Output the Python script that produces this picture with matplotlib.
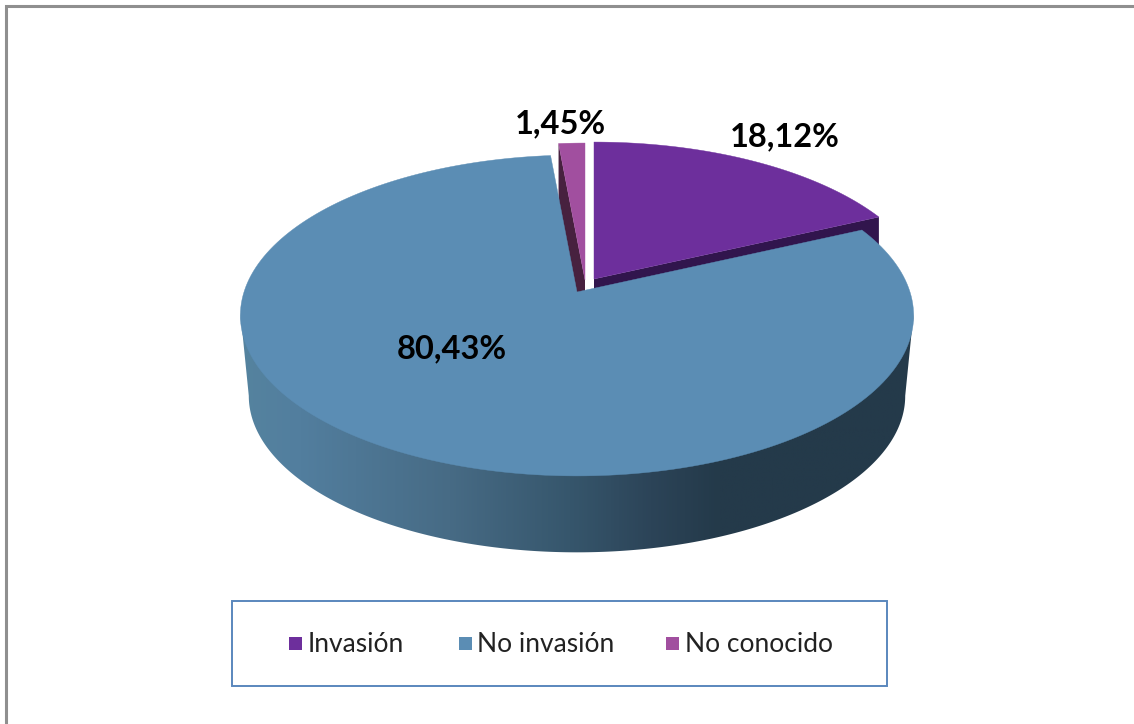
import numpy as np
import matplotlib
matplotlib.use('Agg')
import matplotlib.pyplot as plt
from matplotlib.patches import Polygon, Rectangle
from matplotlib.colors import LinearSegmentedColormap

# chart data
categories = ['Invasión', 'No invasión', 'No conocido']
values = [18.12, 80.43, 1.45]
value_labels = ['18,12%', '80,43%', '1,45%']

colors = ['#6d2f9c', '#5b8db4', '#a14f9f']
wall_colors = ['#31154d', '#2a4458', '#47213f']

# pixel position of each slice tip on the top face (slices are pulled apart)
tips = [(594, 279), (577, 292), (585, 280)]
label_pos = [(785, 137), (452, 349), (560, 124)]
legend_marker_x = [289, 459, 666]
legend_text_x = [308, 477, 685]

# perspective of the disc
PERSP = 0.1464
RX = 333.0
RY = 157.0
DEPTH = 81.0
BOTTOM_SCALE = 0.975


def project(theta, tip, scale=1.0, drop=0.0):
    # theta runs clockwise from the top of the disc, radians
    x = np.sin(theta)
    y = np.cos(theta)
    w = 1 + PERSP * y
    return np.column_stack([tip[0] + scale * RX * x / w,
                            tip[1] + drop - scale * RY * y / w])


def wedge(start, stop, tip):
    th = np.linspace(start, stop, 200)
    return np.vstack([[tip], project(th, tip)])


fig = plt.figure(figsize=(11.34, 7.24), dpi=100)
ax = fig.add_axes([0, 0, 1, 1])
ax.set_xlim(0, 1134)
ax.set_ylim(724, 0)
ax.axis('off')

# outer frame, only the top and left edges fall inside the image
ax.plot([5.5, 5.5, 1134], [724, 6, 6], color='#8f8f8f', lw=2.2, solid_joinstyle='miter')

fractions = np.array(values) / sum(values)
edges = np.concatenate([[0], np.cumsum(fractions)]) * 2 * np.pi

# side of the big slice, shaded left to right
blue_tip = tips[1]
th_all = np.linspace(0, 2 * np.pi, 1000)
top_ring = project(th_all, blue_tip)
bot_ring = project(th_all, blue_tip, BOTTOM_SCALE, DEPTH)
top_arc = top_ring[np.argmax(top_ring[:, 0]):np.argmin(top_ring[:, 0]) + 1]
bot_arc = bot_ring[np.argmax(bot_ring[:, 0]):np.argmin(bot_ring[:, 0]) + 1]
# pushed up a little so it runs under the top face
side = Polygon(np.vstack([top_arc - [0, 3], bot_arc[::-1]]), closed=True, fc='none', ec='none')
ax.add_patch(side)
shade = LinearSegmentedColormap.from_list('side', [
    (0.0, '#55839f'), (0.09, '#527e9e'), (0.31, '#476b85'), (0.49, '#36566c'),
    (0.61, '#2c4458'), (0.71, '#243a4a'), (1.0, '#243a4a')])
img = ax.imshow(np.linspace(0, 1, 512).reshape(1, -1), cmap=shade, aspect='auto',
                extent=[240, 914, 560, 300], zorder=1)
img.set_clip_path(side)
ax.set_xlim(0, 1134)
ax.set_ylim(724, 0)

# cut faces of the two small slices, seen through the gap
purple_end = project(np.array([edges[1]]), tips[0])[0]
face = [tips[0], purple_end, purple_end + [0, 60], np.array(tips[0]) + [0, 60]]
ax.add_patch(Polygon(face, closed=True, fc=wall_colors[0], ec='none', zorder=2))
magenta_start = project(np.array([edges[2]]), tips[2])[0]
face = [tips[2], magenta_start, magenta_start + [0, 60], np.array(tips[2]) + [0, 60]]
ax.add_patch(Polygon(face, closed=True, fc=wall_colors[2], ec='none', zorder=2))

# top faces
for i in [0, 2, 1]:
    pts = wedge(edges[i], edges[i + 1], tips[i])
    ax.add_patch(Polygon(pts, closed=True, fc=colors[i], ec=colors[i], lw=0.3, zorder=3))

for (x, y), txt in zip(label_pos, value_labels):
    ax.text(x, y, txt, ha='center', va='center', fontsize=23.5, fontweight='bold',
            family='Lato', color='black', zorder=5)

# legend box
ax.add_patch(Rectangle((232, 601), 655, 85, fc='white', ec='#5a87bd', lw=1.4, zorder=4))
for name, c, mx, tx in zip(categories, colors, legend_marker_x, legend_text_x):
    ax.add_patch(Rectangle((mx, 637), 13, 13, fc=c, ec='none', zorder=5))
    ax.text(tx, 645, name, ha='left', va='center', fontsize=19, family='Lato',
            color='#222222', zorder=5)

fig.savefig('out.png', dpi=100)
